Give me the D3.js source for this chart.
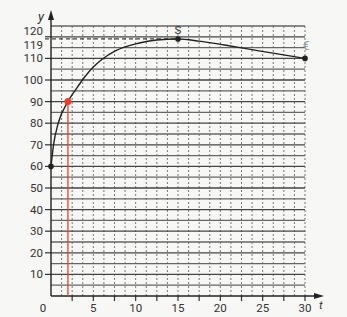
<!DOCTYPE html>
<html>
<head>
<meta charset="utf-8">
<script src="https://cdn.jsdelivr.net/npm/d3@7"></script>
<style>
	body { margin: 0; background: #f7f7f5; }
	svg { display: block; }
	.lbl { font-family: Roboto, "Open Sans", sans-serif; font-size: 11.5px; fill: #333; }
</style>
</head>
<body>
<div id="chart"></div>
<script>
	//curve points (t, y)
	var tValues = [0, 0.3, 0.85, 2, 3, 4, 5, 6, 7.6, 10.3, 12.5, 15, 17.5, 20.5, 24.4, 30];
	var yValues = [60, 70, 80, 90, 96, 101.5, 106, 109.5, 113.5, 117, 118.5, 119, 118, 116.2, 113.6, 110];
	var xTickLabels = [0, 5, 10, 15, 20, 25, 30];
	var yTickLabels = [10, 20, 30, 40, 50, 60, 70, 80, 90, 100, 110, 119, 120];
	var marked = [[0, 60], [15, 119], [30, 110]];
	var redPoint = [2, 90];

	var width = 347;
	var height = 317;

	var svg = d3.select("#chart").append("svg")
		.attr("width", width)
		.attr("height", height);

	var x = d3.scaleLinear().domain([0, 30]).range([51, 305]);
	var y = d3.scaleLinear().domain([0, 125]).range([296, 26]);

	//vertical dashed grid every 1.25
	var vLines = d3.range(1, 25).map(function(i) { return i * 1.25; });
	svg.append("g").selectAll("line")
		.data(vLines)
		.enter().append("line")
		.attr("x1", function(d) { return x(d); })
		.attr("x2", function(d) { return x(d); })
		.attr("y1", y(0))
		.attr("y2", y(125))
		.attr("stroke", "#777")
		.attr("stroke-width", 1)
		.attr("stroke-dasharray", "2,2");

	//horizontal solid grid every 5
	var hLines = d3.range(1, 26).map(function(i) { return i * 5; });
	svg.append("g").selectAll("line")
		.data(hLines)
		.enter().append("line")
		.attr("x1", x(0))
		.attr("x2", x(30))
		.attr("y1", function(d) { return y(d); })
		.attr("y2", function(d) { return y(d); })
		.attr("stroke", function(d) { return d % 10 === 0 ? "#444" : "#666"; })
		.attr("stroke-width", 1.3);

	//dashed line at 119 up to S
	svg.append("line")
		.attr("x1", x(0) - 6)
		.attr("x2", x(15))
		.attr("y1", y(119))
		.attr("y2", y(119))
		.attr("stroke", "#444")
		.attr("stroke-width", 1.3)
		.attr("stroke-dasharray", "4,3");

	//y ticks
	svg.append("g").selectAll("line")
		.data(yTickLabels.filter(function(d) { return d !== 119; }))
		.enter().append("line")
		.attr("x1", x(0) - 6)
		.attr("x2", x(0))
		.attr("y1", function(d) { return y(d); })
		.attr("y2", function(d) { return y(d); })
		.attr("stroke", "#333")
		.attr("stroke-width", 1.2);

	//x ticks every 2.5 below the axis
	svg.append("g").selectAll("line")
		.data(d3.range(1, 13).map(function(i) { return i * 2.5; }))
		.enter().append("line")
		.attr("x1", function(d) { return x(d); })
		.attr("x2", function(d) { return x(d); })
		.attr("y1", y(0))
		.attr("y2", y(0) + 5)
		.attr("stroke", "#333")
		.attr("stroke-width", 1.2);

	//axes with arrows
	svg.append("line")
		.attr("x1", x(0)).attr("x2", x(0))
		.attr("y1", y(0)).attr("y2", 16)
		.attr("stroke", "#222").attr("stroke-width", 1.4);
	svg.append("path")
		.attr("d", "M" + x(0) + ",10 L" + (x(0) - 3) + ",20 L" + (x(0) + 3) + ",20 Z")
		.attr("fill", "#222");
	svg.append("line")
		.attr("x1", x(0)).attr("x2", 318)
		.attr("y1", y(0)).attr("y2", y(0))
		.attr("stroke", "#222").attr("stroke-width", 1.4);
	svg.append("path")
		.attr("d", "M324," + y(0) + " L314," + (y(0) - 3) + " L314," + (y(0) + 3) + " Z")
		.attr("fill", "#222");

	//y labels, 119 and 120 pushed apart
	svg.append("g").selectAll("text")
		.data(yTickLabels)
		.enter().append("text")
		.attr("class", "lbl")
		.attr("x", x(0) - 8)
		.attr("y", function(d) {
			var shift = 0;
			if (d === 120) shift = -5.5;
			if (d === 119) shift = 6;
			return y(d) + shift;
		})
		.attr("dy", "0.35em")
		.attr("text-anchor", "end")
		.text(function(d) { return d; });

	//x labels
	svg.append("g").selectAll("text")
		.data(xTickLabels)
		.enter().append("text")
		.attr("class", "lbl")
		.attr("x", function(d) { return d === 0 ? x(0) - 8 : x(d); })
		.attr("y", 308)
		.attr("dy", "0.35em")
		.attr("text-anchor", "middle")
		.text(function(d) { return d; });

	svg.append("text")
		.attr("class", "lbl")
		.attr("x", 319).attr("y", 305)
		.attr("dy", "0.35em")
		.style("font-style", "italic")
		.text("t");
	svg.append("text")
		.attr("class", "lbl")
		.attr("x", 41).attr("y", 16)
		.attr("dy", "0.35em")
		.attr("text-anchor", "middle")
		.style("font-style", "italic")
		.style("font-size", "13px")
		.text("y");

	//red line and point
	svg.append("line")
		.attr("x1", x(redPoint[0])).attr("x2", x(redPoint[0]))
		.attr("y1", y(redPoint[1])).attr("y2", y(0))
		.attr("stroke", "#e8402c").attr("stroke-width", 1.3);

	//the curve
	var line = d3.line()
		.x(function(d, i) { return x(tValues[i]); })
		.y(function(d, i) { return y(yValues[i]); })
		.curve(d3.curveMonotoneX);
	svg.append("path")
		.datum(tValues)
		.attr("d", line)
		.attr("fill", "none")
		.attr("stroke", "#222")
		.attr("stroke-width", 1.4);

	svg.append("circle")
		.attr("cx", x(redPoint[0])).attr("cy", y(redPoint[1]))
		.attr("r", 3.5)
		.attr("fill", "#e8402c");

	svg.append("g").selectAll("circle")
		.data(marked)
		.enter().append("circle")
		.attr("cx", function(d) { return x(d[0]); })
		.attr("cy", function(d) { return y(d[1]); })
		.attr("r", 2.8)
		.attr("fill", "#222");

	svg.append("text")
		.attr("class", "lbl")
		.attr("x", x(15)).attr("y", 30)
		.attr("dy", "0.35em")
		.attr("text-anchor", "middle")
		.text("S");
	svg.append("text")
		.attr("class", "lbl")
		.attr("x", x(30) + 1).attr("y", 46)
		.attr("dy", "0.35em")
		.attr("text-anchor", "middle")
		.style("fill", "#999")
		.style("font-size", "12px")
		.text("€");
</script>
</body>
</html>
